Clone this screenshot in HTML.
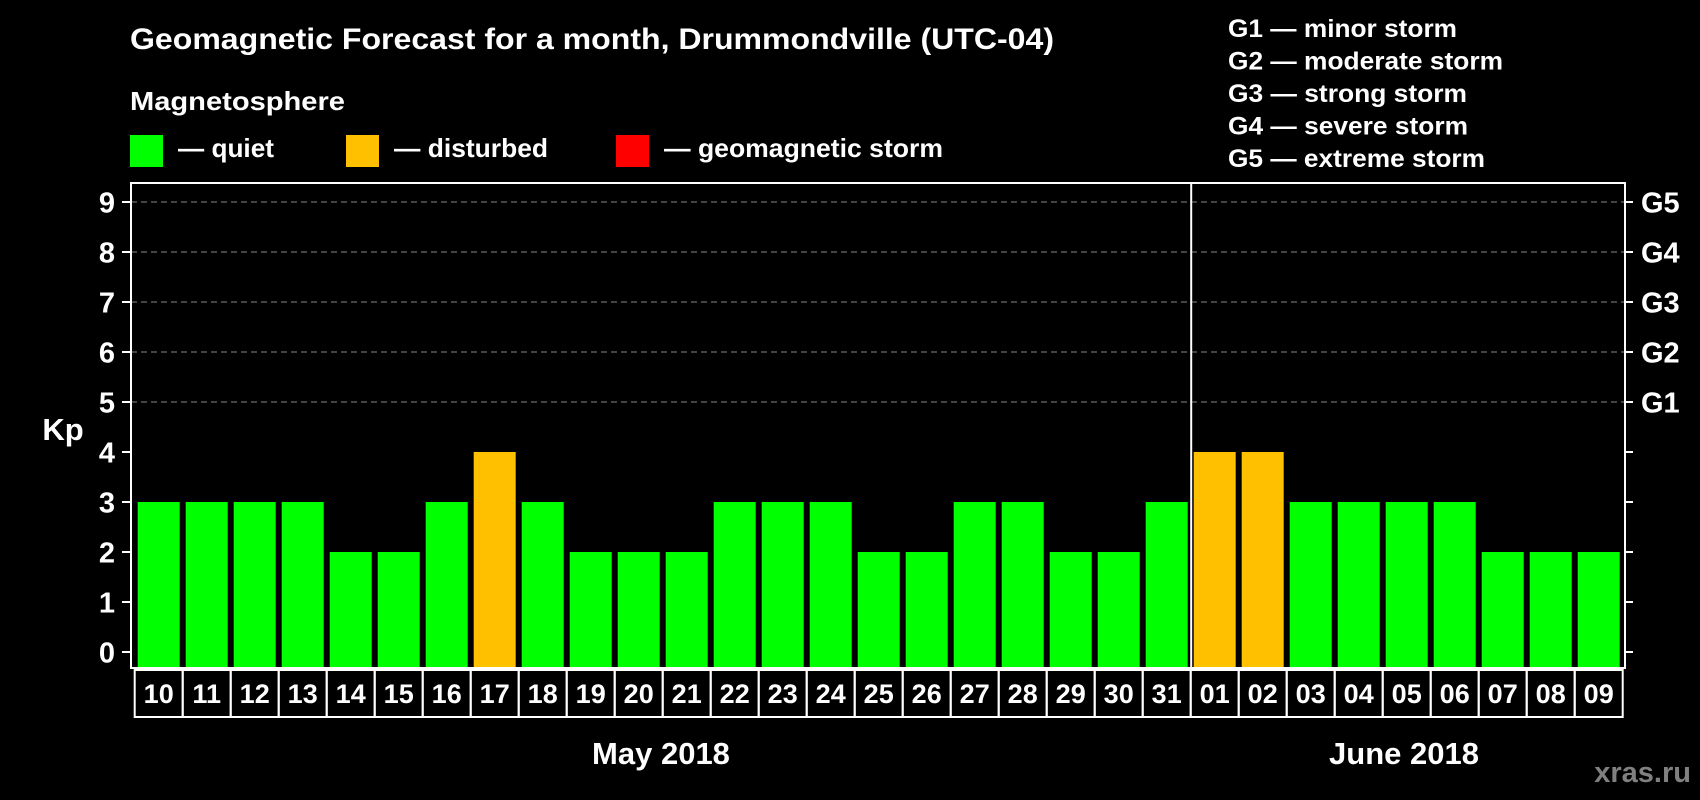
<!DOCTYPE html>
<html><head><meta charset="utf-8"><style>
html,body{margin:0;padding:0;background:#000;}
svg{display:block;font-family:"Liberation Sans",Arial,sans-serif;font-weight:bold;}
</style></head><body>
<svg id="chart" width="1700" height="800" viewBox="0 0 1700 800" xmlns="http://www.w3.org/2000/svg">
<rect width="1700" height="800" fill="#000"/>
<text x="130" y="49" font-size="30" fill="#fff" textLength="924" lengthAdjust="spacingAndGlyphs">Geomagnetic Forecast for a month, Drummondville (UTC-04)</text>
<text x="130" y="110" font-size="26" fill="#fff" textLength="215" lengthAdjust="spacingAndGlyphs">Magnetosphere</text>
<g>
<rect x="130" y="135" width="33" height="32" fill="#00ff00"/>
<text x="178" y="157" font-size="26" fill="#fff" textLength="96" lengthAdjust="spacingAndGlyphs">— quiet</text></g>
<g>
<rect x="346" y="135" width="33" height="32" fill="#ffc000"/>
<text x="394" y="157" font-size="26" fill="#fff" textLength="154" lengthAdjust="spacingAndGlyphs">— disturbed</text></g>
<g>
<rect x="616" y="135" width="33" height="32" fill="#ff0000"/>
<text x="664" y="157" font-size="26" fill="#fff" textLength="279" lengthAdjust="spacingAndGlyphs">— geomagnetic storm</text></g>
<g font-size="25" fill="#fff">
<text x="1228" y="37" textLength="229" lengthAdjust="spacingAndGlyphs">G1 — minor storm</text>
<text x="1228" y="69.5" textLength="275" lengthAdjust="spacingAndGlyphs">G2 — moderate storm</text>
<text x="1228" y="102" textLength="239" lengthAdjust="spacingAndGlyphs">G3 — strong storm</text>
<text x="1228" y="134.5" textLength="240" lengthAdjust="spacingAndGlyphs">G4 — severe storm</text>
<text x="1228" y="167" textLength="257" lengthAdjust="spacingAndGlyphs">G5 — extreme storm</text>
</g>
<text x="63" y="440" font-size="31" fill="#fff" text-anchor="middle">Kp</text>
<text x="661" y="764" font-size="31" fill="#fff" text-anchor="middle">May 2018</text>
<text x="1404" y="764" font-size="31" fill="#fff" text-anchor="middle">June 2018</text>
<text x="1691" y="782" font-size="29" fill="#808080" text-anchor="end">xras.ru</text>
<g id="plot"></g>
</svg>
<script>
const days = ["10","11","12","13","14","15","16","17","18","19","20","21","22","23","24","25","26","27","28","29","30","31","01","02","03","04","05","06","07","08","09"];
const kpValues = [3,3,3,3,2,2,3,4,3,2,2,2,3,3,3,2,2,3,3,2,2,3,4,4,3,3,3,3,2,2,2];
const yTicks = [0,1,2,3,4,5,6,7,8,9];
const gLabels = ["","","","","","G1","G2","G3","G4","G5"];
const monthBreakIndex = 22;

(function(){
const NS = "http://www.w3.org/2000/svg";
const plot = document.getElementById("plot");
const pLeft = 131, pRight = 1625, pTop = 183, pBottom = 668;
const x0 = 134.7, pitch = 48, barW = 42;
const yScale = v => 652 - v * 50;
const xScale = i => x0 + i * pitch;
function mk(tag, attrs){const e=document.createElementNS(NS,tag);for(const k in attrs)e.setAttribute(k,attrs[k]);plot.appendChild(e);return e;}
function color(v){return v>=5?"#ff0000":(v>=4?"#ffc000":"#00ff00");}

yTicks.forEach((t,i)=>{
  const y=yScale(t);
  if(t>=5){const g=mk("line",{x1:pLeft,x2:pRight,y1:y,y2:y,stroke:"#888","stroke-width":1,"stroke-dasharray":"6,4"});
    
    }
  const tl=mk("line",{x1:pLeft-9,x2:pLeft,y1:y,y2:y,stroke:"#fff","stroke-width":2});
  
  
  const tr=mk("line",{x1:pRight,x2:pRight+8,y1:y,y2:y,stroke:"#fff","stroke-width":2});
  
  
  const lb=mk("text",{x:115,y:y+10.5,"font-size":29,fill:"#fff","text-anchor":"end"});
  lb.textContent=t;
  
  
  if(gLabels[i]){const gl=mk("text",{x:1641,y:y+10.5,"font-size":29,fill:"#fff"});
    gl.textContent=gLabels[i];
    
    }
});

kpValues.forEach((v,i)=>{
  const x=xScale(i);
  const b=mk("rect",{x:x+3,y:yScale(v),width:barW,height:pBottom-yScale(v),fill:color(v)});
  
  
  const c=mk("rect",{x:x,y:670,width:pitch,height:47,fill:"none",stroke:"#fff","stroke-width":2});
  
  
  const t=mk("text",{x:x+pitch/2,y:703,"font-size":27,fill:"#fff","text-anchor":"middle"});
  t.textContent=days[i];
  
  
});

const sepX=xScale(monthBreakIndex)+0.5;
const sep=mk("line",{x1:sepX,x2:sepX,y1:pTop,y2:pBottom,stroke:"#fff","stroke-width":2});


const frame=mk("polyline",{points:`${pLeft},${pBottom} ${pLeft},${pTop} ${pRight},${pTop} ${pRight},${pBottom}`,fill:"none",stroke:"#fff","stroke-width":2});


const base=mk("line",{x1:pLeft-1,x2:pRight+1,y1:pBottom,y2:pBottom,stroke:"#fff","stroke-width":2});


})();
</script>
</body></html>
